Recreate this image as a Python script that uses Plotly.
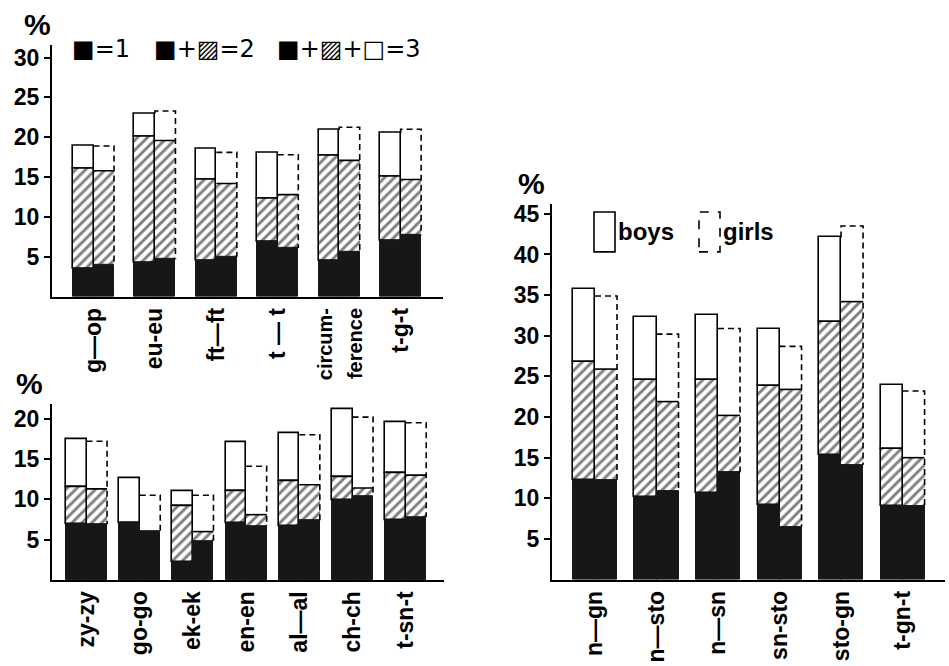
import plotly.graph_objects as go

# ---------------- data ----------------
# Panel A (top-left)
cats_a = ["g—op", "eu-eu", "ft—ft", "t — t",
          "<span style='font-size:20px'>circum-<br>ference</span>", "t-g-t"]
boys_a_1 = [3.5, 4.2, 4.5, 6.9, 4.5, 7.0]
boys_a_2 = [16.0, 20.0, 14.6, 12.3, 17.7, 15.1]
boys_a_3 = [18.9, 23.0, 18.5, 18.0, 20.9, 20.5]
girls_a_1 = [4.0, 4.7, 5.0, 6.1, 5.6, 7.7]
girls_a_2 = [15.8, 19.6, 14.2, 12.8, 17.1, 14.7]
girls_a_3 = [18.9, 23.3, 18.1, 17.8, 21.25, 21.0]

# Panel B (bottom-left)
cats_b = ["zy-zy", "go-go", "ek-ek", "en-en", "al—al", "ch-ch", "t-sn-t"]
boys_b_1 = [6.9, 7.0, 2.2, 7.0, 6.7, 9.9, 7.4]
boys_b_2 = [11.5, 7.0, 9.1, 11.0, 12.3, 12.8, 13.3]
boys_b_3 = [17.5, 12.6, 11.0, 17.1, 18.2, 21.2, 19.6]
girls_b_1 = [6.9, 6.0, 4.8, 6.7, 7.4, 10.4, 7.8]
girls_b_2 = [11.3, 6.0, 6.0, 8.1, 11.8, 11.4, 13.0]
girls_b_3 = [17.2, 10.5, 10.5, 14.1, 18.0, 20.2, 19.5]

# Panel C (right)
cats_c = ["n—gn", "n—sto", "n—sn", "sn-sto", "sto-gn", "t-gn-t"]
boys_c_1 = [12.3, 10.2, 10.6, 9.2, 15.3, 9.0]
boys_c_2 = [26.7, 24.5, 24.6, 23.8, 31.7, 16.1]
boys_c_3 = [35.7, 32.3, 32.6, 30.8, 42.1, 23.9]
girls_c_1 = [12.2, 10.9, 13.2, 6.5, 14.1, 9.0]
girls_c_2 = [25.9, 21.9, 20.2, 23.4, 34.2, 15.0]
girls_c_3 = [34.9, 30.2, 30.9, 28.7, 43.5, 23.2]

W, H = 949, 666
DARK = "#171717"
FONT = "Liberation Sans, Arial, DejaVu Sans"

fig = go.Figure()


def add_panel(n, cats, b1, b2, b3, g1, g2, g3, bw):
    xa = "x" if n == 1 else f"x{n}"
    ya = "y" if n == 1 else f"y{n}"
    idx = list(range(len(cats)))
    xb = [i - bw / 2 for i in idx]
    xg = [i + bw / 2 for i in idx]
    hatch = dict(shape="/", fgcolor="black", bgcolor="white", size=7, solidity=0.42)
    for xs, s1, s2, s3, girl in ((xb, b1, b2, b3, False), (xg, g1, g2, g3, True)):
        lw = 0 if girl else 1.6
        # level 3 (white) drawn first so lower outlines stay on top
        fig.add_trace(go.Bar(x=xs, y=[b - a for a, b in zip(s2, s3)], base=s2, width=bw,
                             marker=dict(color="white", line=dict(color="black", width=lw)),
                             xaxis=xa, yaxis=ya, showlegend=False))
        # level 2 (hatched)
        fig.add_trace(go.Bar(x=xs, y=[b - a for a, b in zip(s1, s2)], base=s1, width=bw,
                             marker=dict(color="white", pattern=hatch,
                                         line=dict(color="black", width=lw)),
                             xaxis=xa, yaxis=ya, showlegend=False))
        # level 1 (dark)
        fig.add_trace(go.Bar(x=xs, y=s1, base=[0] * len(s1), width=bw,
                             marker=dict(color=DARK, line=dict(color=DARK, width=1)),
                             xaxis=xa, yaxis=ya, showlegend=False))
    # girls: solid boundary between white and hatched parts
    sx, sy = [], []
    for i in idx:
        if g2[i] > g1[i]:
            sx += [i, i + bw, None]
            sy += [g2[i], g2[i], None]
    fig.add_trace(go.Scatter(x=sx, y=sy, mode="lines", line=dict(color="black", width=1.6),
                             xaxis=xa, yaxis=ya, showlegend=False, hoverinfo="skip"))
    # girls: dashed outer outline
    px, py = [], []
    for i in idx:
        l, r = i, i + bw
        if g3[i] > b3[i]:
            px += [l, l]
            py += [b3[i], g3[i]]
        else:
            px += [l]
            py += [g3[i]]
        px += [r, r, None]
        py += [g3[i], g1[i], None]
    fig.add_trace(go.Scatter(x=px, y=py, mode="lines",
                             line=dict(color="black", width=1.6, dash="6px,4px"),
                             xaxis=xa, yaxis=ya, showlegend=False, hoverinfo="skip"))


add_panel(1, cats_a, boys_a_1, boys_a_2, boys_a_3, girls_a_1, girls_a_2, girls_a_3, 0.334)
add_panel(2, cats_b, boys_b_1, boys_b_2, boys_b_3, girls_b_1, girls_b_2, girls_b_3, 0.386)
add_panel(3, cats_c, boys_c_1, boys_c_2, boys_c_3, girls_c_1, girls_c_2, girls_c_3, 0.358)


def xaxis(dom, rng, cats):
    return dict(domain=[dom[0] / W, dom[1] / W], range=rng, showline=True, linewidth=2.2,
                linecolor="black", ticks="", tickmode="array",
                tickvals=list(range(len(cats))), ticktext=cats, tickangle=-90,
                tickfont=dict(family=FONT, size=23, color="black", weight="bold"),
                showgrid=False, zeroline=False, fixedrange=True)


def yaxis(top, bottom, rng, tv):
    return dict(domain=[1 - bottom / H, 1 - top / H], range=rng, showline=True, linewidth=2.2,
                linecolor="black", ticks="outside", ticklen=6, tickwidth=2, tickcolor="black",
                tickvals=tv, tickfont=dict(family=FONT, size=23, color="black", weight="bold"),
                showgrid=False, zeroline=False, fixedrange=True, ticklabelstandoff=0)


fig.update_layout(
    width=W, height=H, margin=dict(l=0, r=0, t=0, b=0),
    paper_bgcolor="white", plot_bgcolor="white", barmode="overlay", bargap=0,
    xaxis=dict(xaxis((52, 443), [-0.676, 5.69], cats_a), anchor="y"),
    yaxis=dict(yaxis(42, 295, [0, 31.6], [5, 10, 15, 20, 25, 30]), anchor="x"),
    xaxis2=dict(xaxis((52, 444), [-0.649, 6.72], cats_b), anchor="y2"),
    yaxis2=dict(yaxis(403, 579.6, [0, 21.8], [5, 10, 15, 20]), anchor="x2"),
    xaxis3=dict(xaxis((552, 945), [-0.699, 5.69], cats_c), anchor="y3"),
    yaxis3=dict(yaxis(202, 579.2, [0, 46.2], [5, 10, 15, 20, 25, 30, 35, 40, 45]), anchor="x3"),
)

ann = []
for (x, y) in ((37, 22), (29, 382), (531, 181)):
    ann.append(dict(x=x / W, y=1 - y / H, xref="paper", yref="paper", text="%",
                    xanchor="center", yanchor="middle", showarrow=False,
                    font=dict(family=FONT, size=30, color="black", weight="bold")))
# legend of panel A
for (x, t) in ((70, "■=1"), (152, "■+▨=2"), (275, "■+▨+□=3")):
    ann.append(dict(x=x / W, y=1 - 46 / H, xref="paper", yref="paper", xanchor="left",
                    yanchor="middle", text=t, showarrow=False,
                    font=dict(family="DejaVu Sans", size=24, color="black")))
# legend of panel C
for (x, t) in ((616, "boys"), (721, "girls")):
    ann.append(dict(x=x / W, y=1 - 230 / H, xref="paper", yref="paper", xanchor="left",
                    yanchor="middle", text=t, showarrow=False,
                    font=dict(family=FONT, size=24, color="black", weight="bold")))
fig.update_layout(annotations=ann)

shapes = []
for (x0, x1, dash) in ((594, 615, "solid"), (699, 720, "dash")):
    shapes.append(dict(type="rect", xref="paper", yref="paper",
                       x0=x0 / W, x1=x1 / W, y0=1 - 250 / H, y1=1 - 210 / H,
                       line=dict(color="black", width=1.6, dash=dash), fillcolor="white"))
fig.update_layout(shapes=shapes)

fig.write_html("out.html")
